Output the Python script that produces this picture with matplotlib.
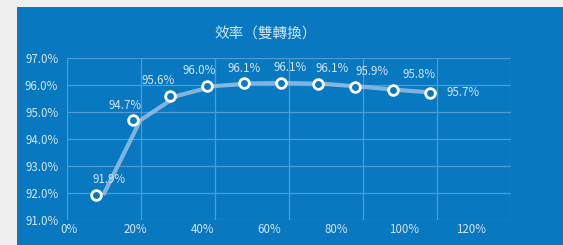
import matplotlib.pyplot as plt
from matplotlib.patches import Rectangle
from matplotlib.transforms import offset_copy

plt.rcParams['font.family'] = ['Noto Sans CJK TC', 'DejaVu Sans']

# load (% of rated) and efficiency (%)
load = [8, 18, 28, 38, 48, 58, 68, 78, 88, 98]
efficiency = [91.93, 94.70, 95.61, 95.97, 96.07, 96.08, 96.05, 95.94, 95.82, 95.72]
point_labels = ['91.9%', '94.7%', '95.6%', '96.0%', '96.1%',
                '96.1%', '96.1%', '95.9%', '95.8%', '95.7%']
x_ticks = [0, 20, 40, 60, 80, 100, 120]
x_ticklabels = ['0%', '20%', '40%', '60%', '80%', '100%', '120%']
y_ticks = [91, 92, 93, 94, 95, 96, 97]

BLUE = '#0878c1'
GRID = '#4f9bd3'
TEXT = '#d2e4f3'
FS = 8.3

fig = plt.figure(figsize=(5.63, 2.45), dpi=100)
fig.patch.set_facecolor(BLUE)
# grey margins left by the screenshot crop (top and left)
fig.patches.append(Rectangle((0, 0), 17 / 563, 1, transform=fig.transFigure,
                             facecolor='#efefef', edgecolor='none', zorder=-10))
fig.patches.append(Rectangle((0, 1 - 7 / 245), 1, 7 / 245, transform=fig.transFigure,
                             facecolor='#efefef', edgecolor='none', zorder=-10))

ax = fig.add_axes([66.7 / 563, 25 / 245, (511 - 66.7) / 563, (220 - 58.3) / 245])
ax.set_facecolor(BLUE)
ax.set_xlim(0, 120)
ax.set_ylim(91, 97)
for s in ax.spines.values():
    s.set_visible(False)

ax.set_xticks(x_ticks)
ax.set_xticklabels([])
ax.set_yticks(y_ticks)
ax.set_yticklabels([f'{v:.1f}%' for v in y_ticks])
ax.tick_params(axis='both', length=0, colors=TEXT, labelsize=FS)
ax.tick_params(axis='y', pad=6)
ax.grid(True, color=GRID, linewidth=0.9)
ax.set_axisbelow(True)

# the x labels in the screenshot sit on a slightly compressed scale
for xt, lab in zip(x_ticks, x_ticklabels):
    ax.text(xt * 0.905 + 0.5, 90.64, lab, ha='center', va='center',
            fontsize=FS, color=TEXT, clip_on=False)

# line is drawn a few pixels right of the markers, as in the source
line_tr = offset_copy(ax.transData, fig=fig, x=7, y=0, units='dots')
ax.plot(load, efficiency, color='#9ec4e6', alpha=0.8, linewidth=3.0,
        solid_capstyle='butt', transform=line_tr, zorder=2)
ax.plot(load, efficiency, linestyle='none', marker='o', markersize=7,
        markerfacecolor=BLUE, markeredgecolor='white', markeredgewidth=2.0,
        zorder=3, clip_on=False)

label_dx = [9, -6, -9, -6, 0, 6, 10, 12, 19]
for x, y, lab, dx in zip(load[:-1], efficiency[:-1], point_labels[:-1], label_dx):
    ax.annotate(lab, (x, y), xytext=(dx, 11), textcoords='offset points',
                ha='center', va='center', fontsize=FS, color=TEXT, zorder=4)
ax.annotate(point_labels[-1], (load[-1], efficiency[-1]), xytext=(24, 0),
            textcoords='offset points', ha='center', va='center',
            fontsize=FS, color=TEXT, zorder=4)

fig.text(266 / 563, 1 - 35 / 245, '效率（雙轉換）', ha='center', va='center',
         fontsize=10.5, color=TEXT)

fig.savefig('out.png', dpi=100, facecolor=fig.get_facecolor())
